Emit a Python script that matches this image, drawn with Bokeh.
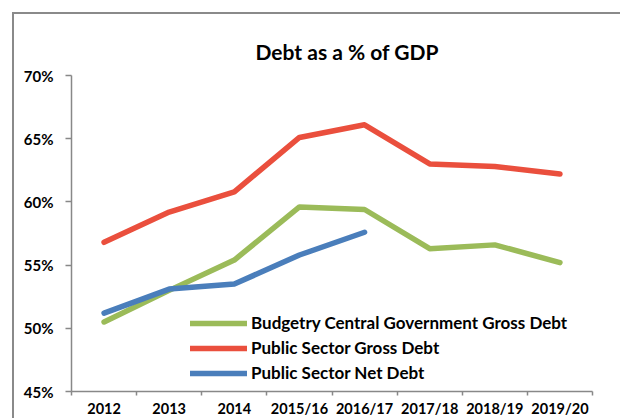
from bokeh.plotting import figure
from bokeh.models import (FixedTicker, PrintfTickFormatter, Legend, LegendItem,
                          Range1d, ColumnDataSource)
from bokeh.embed import file_html
from bokeh.resources import INLINE

categories = ["2012", "2013", "2014", "2015/16", "2016/17", "2017/18", "2018/19", "2019/20"]
bcg_gross = [50.5, 53.0, 55.4, 59.6, 59.4, 56.3, 56.6, 55.2]
ps_gross = [56.8, 59.2, 60.8, 65.1, 66.1, 63.0, 62.8, 62.2]
ps_net = [51.2, 53.1, 53.5, 55.8, 57.6]
y_ticks = [45, 50, 55, 60, 65, 70]

series = [
    ("Budgetry Central Government Gross Debt", bcg_gross, "#9BBB59"),
    ("Public Sector Gross Debt", ps_gross, "#EA4F3D"),
    ("Public Sector Net Debt", ps_net, "#4A7EBB"),
]

FONT = "Lato"
AXIS_COLOR = "#888888"

# page offset of the outer chart border (12px margin + 2px border)
p = figure(width=606, height=404, output_backend="svg", toolbar_location=None,
           x_range=Range1d(0, len(categories)), y_range=Range1d(45, 70),
           min_border_left=57, min_border_right=28, min_border_top=61, min_border_bottom=27)
p.frame_width = 521
p.frame_height = 316
p.margin = (12, 0, 0, 12)
p.styles = {"border-top": "2px solid #8a8a8a", "border-left": "2px solid #8a8a8a"}

p.title.text = "Debt as a % of GDP"
p.title.align = "left"
p.title.text_font = FONT
p.title.text_font_size = "21px"
p.title.text_font_style = "bold"
p.title.text_color = "black"
p.title.offset = 184
p.title.standoff = 23

p.xgrid.visible = False
p.ygrid.visible = False
p.outline_line_color = None
p.background_fill_color = "white"
p.border_fill_color = "white"

centers = [i + 0.5 for i in range(len(categories))]
bounds = [float(i) for i in range(len(categories) + 1)]

xa = p.xaxis[0]
xa.ticker = FixedTicker(ticks=centers, minor_ticks=bounds)
xa.major_label_overrides = {c: lab for c, lab in zip(centers, categories)}
xa.major_tick_out = 0
xa.major_tick_in = 0
xa.minor_tick_out = 4
xa.minor_tick_in = 0
xa.minor_tick_line_color = AXIS_COLOR
xa.axis_line_color = AXIS_COLOR
xa.axis_line_width = 1.5
xa.minor_tick_line_width = 1.5
xa.major_label_text_font = FONT
xa.major_label_text_font_size = "14.5px"
xa.major_label_text_font_style = "bold"
xa.major_label_text_color = "black"
xa.major_label_standoff = 4

ya = p.yaxis[0]
ya.ticker = FixedTicker(ticks=y_ticks)
ya.formatter = PrintfTickFormatter(format="%d%%")
ya.major_tick_out = 6
ya.major_tick_in = 0
ya.minor_tick_line_color = None
ya.major_tick_line_color = AXIS_COLOR
ya.major_tick_line_width = 1.5
ya.axis_line_color = AXIS_COLOR
ya.axis_line_width = 1.5
ya.major_label_text_font = FONT
ya.major_label_text_font_size = "15px"
ya.major_label_text_font_style = "bold"
ya.major_label_text_color = "black"
ya.major_label_standoff = 12

items = []
for name, vals, color in series:
    src = ColumnDataSource(dict(x=centers[:len(vals)], y=vals))
    r = p.line("x", "y", source=src, line_color=color, line_width=5.5,
               line_cap="round", line_join="round")
    items.append(LegendItem(label=name, renderers=[r]))

legend = Legend(items=items, location=(119, 8), padding=0, margin=0,
                border_line_color=None, background_fill_alpha=0,
                glyph_width=57, glyph_height=20, label_height=20, spacing=4,
                label_standoff=4, label_text_font=FONT, label_text_font_size="17px",
                label_text_font_style="bold", label_text_color="black")
p.add_layout(legend, "center")

open("out.html", "w").write(file_html(p, INLINE))
